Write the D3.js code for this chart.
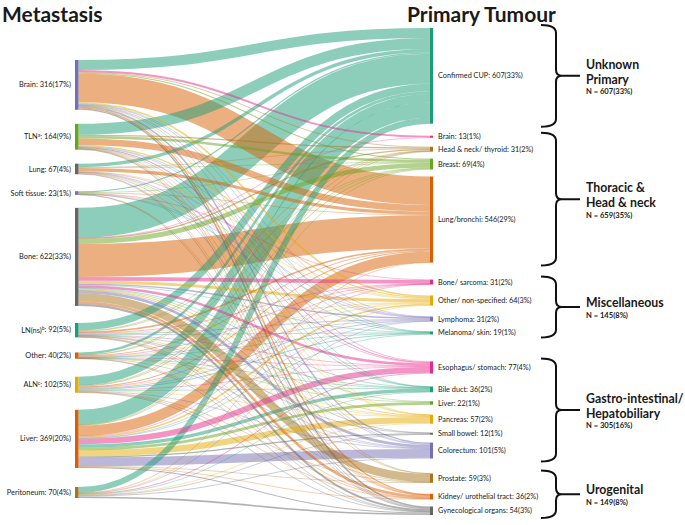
<!DOCTYPE html>
<html>
<head>
<meta charset="utf-8">
<script src="https://cdn.jsdelivr.net/npm/d3@7"></script>
<style>
  body { margin: 0; background: #fff; }
  text { font-family: Lato, "Open Sans", sans-serif; fill: #1a1a1a; }
</style>
</head>
<body>
<script>
"use strict";

// metastasis sites (left column)
var metaNames = ["Brain", "TLN", "Lung", "Soft tissue", "Bone", "LN(ns)", "Other", "ALN", "Liver", "Peritoneum"];
var metaSup = ["", "a", "", "", "", "b", "", "c", "", ""];
var metaCounts = [316, 164, 67, 23, 622, 92, 40, 102, 369, 70];
var metaPct = [17, 9, 4, 1, 33, 5, 2, 5, 20, 4];
var metaColors = ["#7570b3", "#66a61e", "#666666", "#7570b3", "#666666", "#1b9e77", "#d95f02", "#e6ab02", "#d95f02", "#a6761d"];

// primary tumours (right column)
var primNames = ["Confirmed CUP", "Brain", "Head & neck/ thyroid", "Breast", "Lung/bronchi",
  "Bone/ sarcoma", "Other/ non-specified", "Lymphoma", "Melanoma/ skin",
  "Esophagus/ stomach", "Bile duct", "Liver", "Pancreas", "Small bowel", "Colorectum",
  "Prostate", "Kidney/ urothelial tract", "Gynecological organs"];
var primCounts = [607, 13, 31, 69, 546, 31, 64, 31, 19, 77, 36, 22, 57, 12, 101, 59, 36, 54];
var primPct = [33, 1, 2, 4, 29, 2, 3, 2, 1, 4, 2, 1, 2, 1, 5, 3, 2, 3];
var primColors = ["#1b9e77", "#e7298a", "#a6761d", "#66a61e", "#d95f02",
  "#e7298a", "#e6ab02", "#7570b3", "#1b9e77",
  "#e7298a", "#1b9e77", "#66a61e", "#e6ab02", "#666666", "#7570b3",
  "#a6761d", "#d95f02", "#666666"];

// flows: one row per metastasis site, one column per primary tumour (estimated)
var flows = [
  [64, 12, 5, 7, 180, 0, 10, 2, 3, 4, 1, 0, 1, 0, 9, 1, 8, 9],
  [70, 0, 8, 15, 42, 0, 7, 3, 2, 6, 1, 0, 1, 0, 3, 1, 1, 4],
  [22, 0, 2, 4, 20, 0, 4, 1, 0, 2, 2, 0, 1, 0, 4, 0, 2, 3],
  [8, 0, 0, 1, 4, 2, 3, 1, 1, 0, 0, 0, 0, 0, 0, 0, 1, 2],
  [190, 1, 8, 30, 210, 24, 18, 9, 2, 16, 4, 4, 6, 2, 17, 52, 16, 13],
  [48, 0, 4, 2, 10, 1, 3, 5, 3, 3, 1, 0, 2, 1, 3, 2, 2, 2],
  [16, 0, 1, 2, 5, 2, 3, 2, 1, 2, 1, 1, 1, 0, 1, 0, 1, 1],
  [55, 0, 2, 5, 6, 1, 4, 5, 5, 3, 3, 0, 2, 0, 4, 1, 2, 4],
  [96, 0, 1, 3, 68, 1, 10, 2, 2, 36, 21, 17, 39, 7, 55, 2, 3, 6],
  [38, 0, 0, 0, 1, 0, 2, 1, 0, 5, 2, 0, 4, 2, 5, 0, 0, 10]
];

// primary tumour groups
var groupLines = [["Unknown", "Primary"], ["Thoracic &", "Head & neck"], ["Miscellaneous"],
  ["Gastro-intestinal/", "Hepatobiliary"], ["Urogenital"]];
var groupN = ["N = 607(33%)", "N = 659(35%)", "N = 145(8%)", "N = 305(16%)", "N = 149(8%)"];
var groupSizes = [1, 4, 4, 6, 3];

// layout
var width = 685, height = 525,
  xLeft = 75, xRight = 430, barW = 3.5,
  leftTop = 60, rightTop = 28,
  leftGaps = [14, 14, 17, 13, 17, 15, 18, 17, 19],
  rightGaps = [12, 9, 7, 7, 17, 11, 11, 10, 27, 13, 9, 10, 9, 8, 15, 11, 7],
  braceX0 = 541, braceX1 = 556, braceX2 = 580;

var total = d3.sum(metaCounts);

var scaleV = d3.scaleLinear()
  .domain([0, total])
  .range([0, 294]);

function stack(counts, top, gaps) {
  var y = top;
  return counts.map(function(c, i) {
    if (i > 0) y += gaps[i - 1];
    var node = {y0: y, y1: y + scaleV(c)};
    y = node.y1;
    return node;
  });
}

var leftNodes = stack(metaCounts, leftTop, leftGaps),
  rightNodes = stack(primCounts, rightTop, rightGaps);

var svg = d3.select("body").append("svg")
  .attr("width", width)
  .attr("height", height);

// links --------------------------------------------------------
var links = [];
flows.forEach(function(row, i) {
  row.forEach(function(v, j) {
    if (v > 0) links.push({s: i, t: j, value: v, w: scaleV(v)});
  });
});

// source side: ordered by target
var sOff = leftNodes.map(function(n) { return n.y0; });
links.forEach(function(l) {
  l.ys = sOff[l.s] + l.w / 2;
  sOff[l.s] += l.w;
});

// target side: ordered by source
var tOff = rightNodes.map(function(n) { return n.y0; });
d3.range(primNames.length).forEach(function(j) {
  links.filter(function(l) { return l.t === j; })
    .sort(function(a, b) { return a.s - b.s; })
    .forEach(function(l) {
      l.yt = tOff[j] + l.w / 2;
      tOff[j] += l.w;
    });
});

var linkPath = d3.linkHorizontal();

svg.append("g")
  .attr("fill", "none")
  .selectAll("path")
  .data(links.slice().sort(function(a, b) { return b.value - a.value; }))
  .join("path")
    .attr("d", function(d) {
      return linkPath({source: [xLeft + barW, d.ys], target: [xRight, d.yt]});
    })
    .attr("stroke", function(d) { return primColors[d.t]; })
    .attr("stroke-opacity", 0.5)
    .attr("stroke-width", function(d) { return Math.max(d.w, 0.6); });

// nodes --------------------------------------------------------
svg.append("g")
  .selectAll("rect")
  .data(leftNodes)
  .join("rect")
    .attr("x", xLeft)
    .attr("y", function(d) { return d.y0; })
    .attr("width", barW)
    .attr("height", function(d) { return Math.max(d.y1 - d.y0, 2); })
    .attr("fill", function(d, i) { return metaColors[i]; });

svg.append("g")
  .selectAll("rect")
  .data(rightNodes)
  .join("rect")
    .attr("x", xRight)
    .attr("y", function(d) { return d.y0; })
    .attr("width", 3)
    .attr("height", function(d) { return Math.max(d.y1 - d.y0, 2); })
    .attr("fill", function(d, i) { return primColors[i]; });

// labels
var leftLabels = svg.append("g")
  .attr("font-size", "7.4px")
  .attr("text-anchor", "end")
  .selectAll("text")
  .data(leftNodes)
  .join("text")
    .attr("x", xLeft - 4)
    .attr("y", function(d) { return (d.y0 + d.y1) / 2; })
    .attr("dy", "0.35em");

leftLabels.append("tspan").text(function(d, i) { return metaNames[i]; });
leftLabels.append("tspan")
  .attr("font-size", "5px")
  .attr("dy", "-0.5em")
  .text(function(d, i) { return metaSup[i]; });
leftLabels.append("tspan")
  .attr("dy", function(d, i) { return metaSup[i] ? "0.3em" : null; })
  .text(function(d, i) { return ": " + metaCounts[i] + "(" + metaPct[i] + "%)"; });

svg.append("g")
  .attr("font-size", "7.3px")
  .selectAll("text")
  .data(rightNodes)
  .join("text")
    .attr("x", xRight + 8)
    .attr("y", function(d) { return (d.y0 + d.y1) / 2; })
    .attr("dy", "0.35em")
    .text(function(d, i) { return primNames[i] + ": " + primCounts[i] + "(" + primPct[i] + "%)"; });

// titles
svg.append("text")
  .attr("x", 2)
  .attr("y", 22)
  .attr("font-size", "21px")
  .attr("font-weight", "bold")
  .text("Metastasis");

svg.append("text")
  .attr("x", 407)
  .attr("y", 22)
  .attr("font-size", "21px")
  .attr("font-weight", "bold")
  .text("Primary Tumour");

// group braces -------------------------------------------------
var start = 0;
groupSizes.forEach(function(size, g) {
  var top = rightNodes[start].y0 - 3,
    bottom = rightNodes[start + size - 1].y1 + 3,
    mid = (top + bottom) / 2;
  start += size;

  var p = d3.path();
  p.moveTo(braceX0, top);
  p.quadraticCurveTo(braceX1, top, braceX1, top + 8);
  p.lineTo(braceX1, mid - 6);
  p.quadraticCurveTo(braceX1, mid, braceX1 + 6, mid);
  p.lineTo(braceX2, mid);
  p.moveTo(braceX1 + 6, mid);
  p.quadraticCurveTo(braceX1, mid, braceX1, mid + 6);
  p.lineTo(braceX1, bottom - 8);
  p.quadraticCurveTo(braceX1, bottom, braceX0, bottom);

  svg.append("path")
    .attr("d", p.toString())
    .attr("fill", "none")
    .attr("stroke", "#111")
    .attr("stroke-width", 2);

  var lines = groupLines[g],
    y1 = lines.length > 1 ? mid - 7 : mid;

  var label = svg.append("text")
    .attr("x", braceX2 + 6)
    .attr("font-size", "12.3px")
    .attr("font-weight", "bold");

  lines.forEach(function(line, k) {
    label.append("tspan")
      .attr("x", braceX2 + 6)
      .attr("y", y1 + k * 15)
      .text(line);
  });

  svg.append("text")
    .attr("x", braceX2 + 6)
    .attr("y", y1 + (lines.length - 1) * 15 + 10.5)
    .attr("font-size", "7.6px")
    .attr("font-weight", "bold")
    .text(groupN[g]);
});
</script>
</body>
</html>
